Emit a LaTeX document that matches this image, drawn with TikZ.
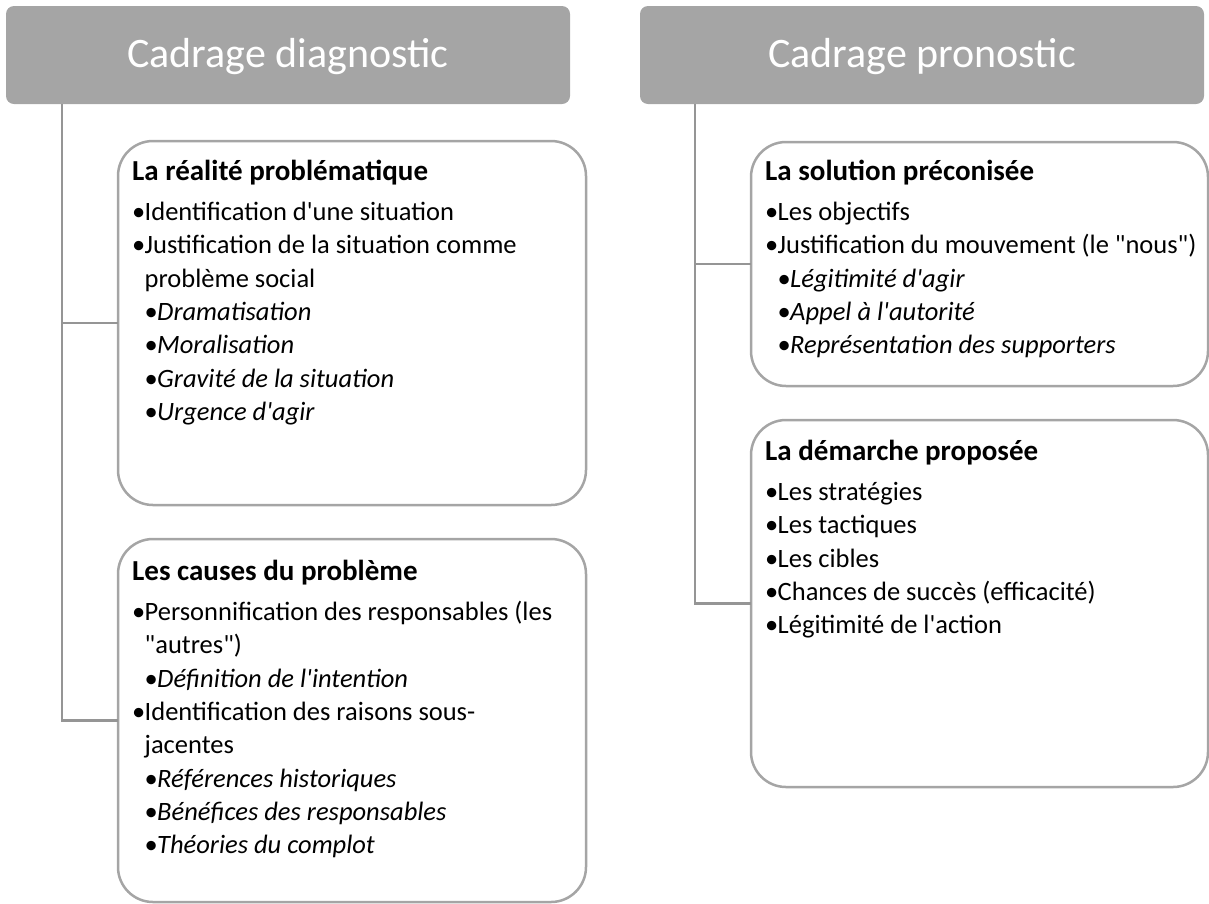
\documentclass[tikz,border=0pt]{standalone}
\usepackage{fontspec}
\setmainfont{Carlito}
\definecolor{boxgray}{HTML}{A5A5A5}
\definecolor{linegray}{HTML}{959595}
\tikzset{
  hdr/.style={fill=boxgray, rounded corners=8pt, minimum width=564pt, minimum height=98pt,
    anchor=north west, text=white, font=\fontsize{42}{50}\selectfont, text depth=4pt,
    inner sep=0pt, outer sep=0pt},
  card/.style={draw=boxgray, line width=2.5pt, fill=white, rounded corners=35pt,
    anchor=north west, inner sep=0pt, outer sep=0pt},
  conn/.style={draw=linegray, line width=2.5pt},
  txt/.style={anchor=north west, inner sep=0pt, font=\fontsize{26.5}{33.3}\selectfont},
}
\newcommand{\ttl}[1]{{\fontsize{29}{33.3}\selectfont\bfseries #1}}
\newcommand{\bi}[1]{\makebox[12.5pt][l]{•}#1}
\newcommand{\bc}[1]{\hspace*{12.5pt}#1}
\newcommand{\bii}[1]{\hspace*{12.5pt}\makebox[12.5pt][l]{•}\textit{#1}}
\newcommand{\qd}{\textquotedbl{}}
\newcommand{\qs}{\textquotesingle{}}
\begin{document}
\begin{tikzpicture}[x=1pt,y=-1pt]
\useasboundingbox (0,0) rectangle (1209,903);
% headers
\node[hdr] (h1) at (6,6) {Cadrage diagnostic};
\node[hdr] (h2) at (640,6) {Cadrage pronostic};
% cards
\node[card, minimum width=468pt, minimum height=364pt] (b1) at (118,141) {};
\node[card, minimum width=468pt, minimum height=363pt] (b2) at (118,539) {};
\node[card, minimum width=457pt, minimum height=244pt] (b3) at (751,142) {};
\node[card, minimum width=457pt, minimum height=367pt] (b4) at (751,420) {};
% trunks
\coordinate (t1) at (62,104);
\coordinate (t2) at (695,104);
\draw[conn] (t1) |- (b1.west);
\draw[conn] (t1) |- (b2.west);
\draw[conn] (t2) |- (b3.west);
\draw[conn] (t2) |- (b4.west);
% texts
\node[txt] (b1t) at ([xshift=14pt,yshift=-15.7pt]b1.north west) {%
\begin{tabular}{@{}l@{}}
\ttl{La réalité problématique}\\[7pt]
\bi{Identification d\qs une situation}\\
\bi{Justification de la situation comme}\\
\bc{problème social}\\
\bii{Dramatisation}\\
\bii{Moralisation}\\
\bii{Gravité de la situation}\\
\bii{Urgence d\qs agir}
\end{tabular}};
\node[txt] (b2t) at ([xshift=14pt,yshift=-17.7pt]b2.north west) {%
\begin{tabular}{@{}l@{}}
\ttl{Les causes du problème}\\[7pt]
\bi{Personnification des responsables (les}\\
\bc{\qd autres\qd)}\\
\bii{Définition de l\qs intention}\\
\bi{Identification des raisons sous-}\\
\bc{jacentes}\\
\bii{Références historiques}\\
\bii{Bénéfices des responsables}\\
\bii{Théories du complot}
\end{tabular}};
\node[txt] (b3t) at ([xshift=14pt,yshift=-14.7pt]b3.north west) {%
\begin{tabular}{@{}l@{}}
\ttl{La solution préconisée}\\[7pt]
\bi{Les objectifs}\\
\bi{Justification du mouvement (le \qd nous\qd)}\\
\bii{Légitimité d\qs agir}\\
\bii{Appel à l\qs autorité}\\
\bii{Représentation des supporters}
\end{tabular}};
\node[txt] (b4t) at ([xshift=14pt,yshift=-16.7pt]b4.north west) {%
\begin{tabular}{@{}l@{}}
\ttl{La démarche proposée}\\[7pt]
\bi{Les stratégies}\\
\bi{Les tactiques}\\
\bi{Les cibles}\\
\bi{Chances de succès (efficacité)}\\
\bi{Légitimité de l\qs action}
\end{tabular}};
\end{tikzpicture}
\end{document}
